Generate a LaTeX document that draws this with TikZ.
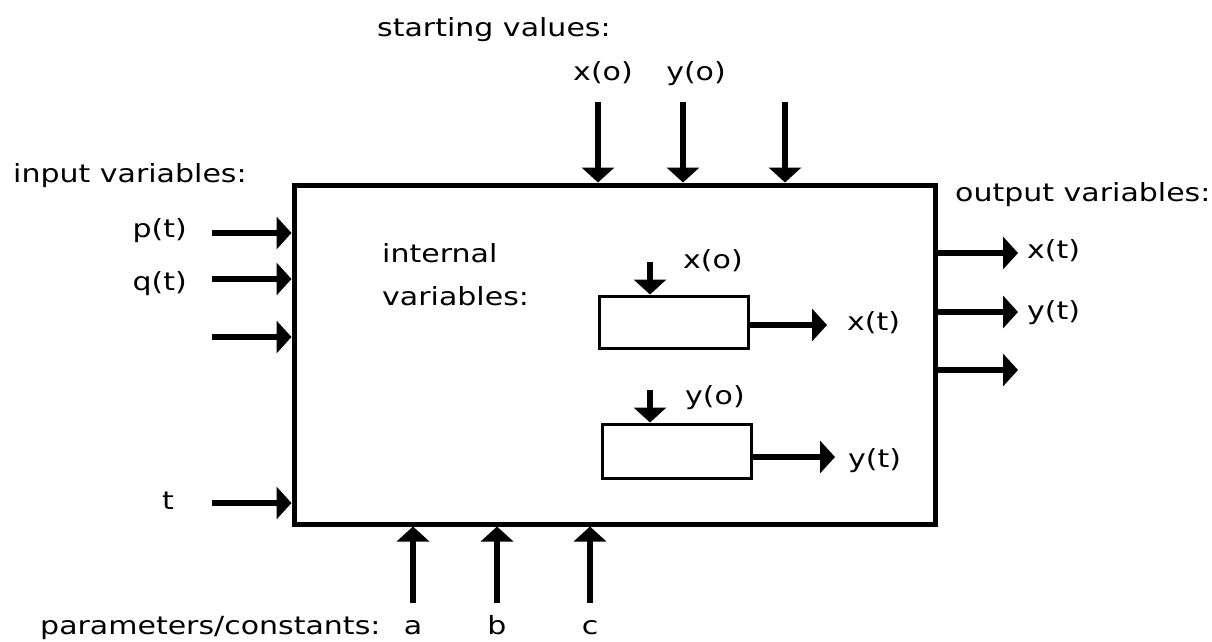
\documentclass[tikz,border=0pt]{standalone}
\usepackage{fontspec}
\setmainfont{DejaVu Sans}[FakeStretch=1.2]
\usetikzlibrary{arrows.meta}

\begin{document}
\begin{tikzpicture}[x=1pt,y=-1pt,
        every node/.style={font=\fontsize{25}{30}\selectfont, inner sep=0pt},
        flow/.style={line width=6pt,-{Triangle[length=15pt,width=32pt]}},
        blockbox/.style={draw,line width=3pt,minimum width=149pt,minimum height=52pt}]
        \useasboundingbox (0,0) rectangle (1212,641);
        \node[draw,line width=5pt,minimum width=641pt,minimum height=339pt] (sys) at (614.5,354.5) {};

        % starting values
        \node[anchor=base west] (startlab) at (377,36) {starting values:};
        \node[anchor=base] (x0lab) at (603,80) {x(o)};
        \node[anchor=base] (y0lab) at (696,80) {y(o)};
        \foreach \n/\x in {sx/598,sy/683,sz/785} {
            \coordinate (\n) at (\x,102);
            \draw[flow] (\n) -- (\n |- sys.north);
        }

        % input variables
        \node[anchor=base west] (inlab) at (13,182) {input variables:};
        \foreach \n/\y in {pin/233,qin/279,rin/337,tin/503} {
            \coordinate (\n) at (212,\y);
            \draw[flow] (\n) -- (\n -| sys.west);
        }
        \node[anchor=base east] (plab) at (187,237) {p(t)};
        \node[anchor=base east] (qlab) at (187,290) {q(t)};
        \node[anchor=base east] (tlab) at (174,509) {t};

        % output variables
        \node[anchor=base west] (outlab) at (955,201) {output variables:};
        \foreach \n/\y in {xout/253,yout/312,zout/370} {
            \coordinate (\n) at (1018,\y);
            \draw[flow] (\n -| sys.east) -- (\n);
        }
        \node[anchor=base west] (xtlab) at (1027,258) {x(t)};
        \node[anchor=base west] (ytlab) at (1027,319) {y(t)};

        % internal variables
        \node[anchor=base west] (intlab) at (382,262) {internal};
        \node[anchor=base west] (varlab) at (382,305) {variables:};
        \node[blockbox] (xblock) at (673.5,322) {};
        \node[blockbox,minimum height=54pt] (yblock) at (676.5,451) {};
        \coordinate (xin) at (650,262);
        \coordinate (yin) at (650,390);
        \draw[flow] (xin) -- (xin |- xblock.north);
        \draw[flow] (yin) -- (yin |- yblock.north);
        \coordinate (xend) at (827,325);
        \coordinate (yend) at (835,457);
        \draw[flow] (xend -| xblock.east) -- (xend);
        \draw[flow] (yend -| yblock.east) -- (yend);
        \node[anchor=base west] (xolab) at (683,268) {x(o)};
        \node[anchor=base west] (yolab) at (685,404) {y(o)};
        \node[anchor=base west] (xilab) at (847,330) {x(t)};
        \node[anchor=base west] (yilab) at (848,467) {y(t)};

        % parameters
        \node[anchor=base west] (parlab) at (40,634) {parameters/constants:};
        \foreach \n/\x/\t in {pa/413/a,pb/497/b,pc/590/c} {
            \coordinate (\n) at (\x,603);
            \draw[flow] (\n) -- (\n |- sys.south);
            \node[anchor=base] (\n lab) at (\x,634) {\t};
        }
    \end{tikzpicture}
\end{document}
